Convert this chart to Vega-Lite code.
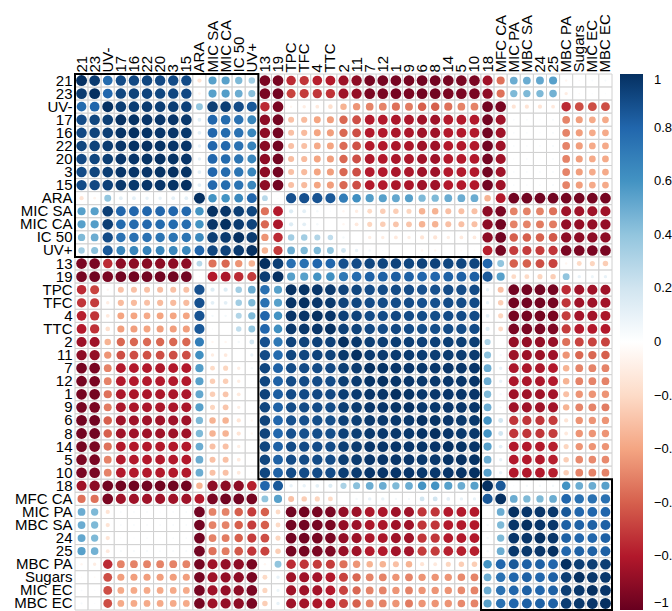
{
  "$schema": "https://vega.github.io/schema/vega-lite/v6.json",
  "width": 537,
  "height": 536,
  "autosize": {"type": "none"},
  "padding": {"left": 75, "top": 74, "right": 60, "bottom": 1},
  "background": "white",
  "config": {
    "view": {"stroke": null},
    "axis": {"labelFont": "Liberation Sans", "labelFontSize": 15, "labelColor": "#000000", "domain": false, "ticks": false, "grid": false, "title": null, "labelOverlap": false, "labelPadding": 3},
    "legend": {"gradientVerticalMaxLength": 600}
  },
  "datasets": {
    "blocks": [
      {"from": "21", "to": "UV+"},
      {"from": "13", "to": "10"},
      {"from": "18", "to": "MBC EC"}
    ],
    "cells": [
      {"a":"21","b":"21","r":1},{"a":"21","b":"23","r":0.96},{"a":"21","b":"UV-","r":0.78},{"a":"21","b":"17","r":0.9},{"a":"21","b":"16","r":0.91},{"a":"21","b":"22","r":0.92},{"a":"21","b":"20","r":0.91},{"a":"21","b":"3","r":0.9},{"a":"21","b":"15","r":0.9},{"a":"21","b":"ARA","r":-0.15},{"a":"21","b":"MIC SA","r":0.55},{"a":"21","b":"MIC CA","r":0.55},{"a":"21","b":"IC 50","r":0.45},{"a":"21","b":"UV+","r":0.35},{"a":"21","b":"13","r":-0.95},{"a":"21","b":"19","r":-0.96},{"a":"21","b":"TPC","r":-0.75},{"a":"21","b":"TFC","r":-0.72},{"a":"21","b":"4","r":-0.78},{"a":"21","b":"TTC","r":-0.8},{"a":"21","b":"2","r":-0.86},{"a":"21","b":"11","r":-0.9},{"a":"21","b":"7","r":-0.96},{"a":"21","b":"12","r":-0.96},{"a":"21","b":"1","r":-0.96},{"a":"21","b":"9","r":-0.96},{"a":"21","b":"6","r":-0.97},{"a":"21","b":"8","r":-0.97},{"a":"21","b":"14","r":-0.96},{"a":"21","b":"5","r":-0.95},{"a":"21","b":"10","r":-0.95},{"a":"21","b":"18","r":-0.85},{"a":"21","b":"MFC CA","r":-0.55},{"a":"21","b":"MIC PA","r":0.5},{"a":"21","b":"MBC SA","r":0.5},{"a":"21","b":"24","r":0.52},{"a":"21","b":"25","r":0.55},{"a":"21","b":"MBC PA","r":-0.05},{"a":"21","b":"Sugars","r":-0.02},{"a":"21","b":"MIC EC","r":0.03},{"a":"21","b":"MBC EC","r":0.04},
      {"a":"23","b":"23","r":1},{"a":"23","b":"UV-","r":0.8},{"a":"23","b":"17","r":0.92},{"a":"23","b":"16","r":0.93},{"a":"23","b":"22","r":0.93},{"a":"23","b":"20","r":0.92},{"a":"23","b":"3","r":0.92},{"a":"23","b":"15","r":0.91},{"a":"23","b":"ARA","r":-0.06},{"a":"23","b":"MIC SA","r":0.55},{"a":"23","b":"MIC CA","r":0.56},{"a":"23","b":"IC 50","r":0.5},{"a":"23","b":"UV+","r":0.42},{"a":"23","b":"13","r":-0.95},{"a":"23","b":"19","r":-0.97},{"a":"23","b":"TPC","r":-0.68},{"a":"23","b":"TFC","r":-0.7},{"a":"23","b":"4","r":-0.72},{"a":"23","b":"TTC","r":-0.73},{"a":"23","b":"2","r":-0.85},{"a":"23","b":"11","r":-0.88},{"a":"23","b":"7","r":-0.95},{"a":"23","b":"12","r":-0.95},{"a":"23","b":"1","r":-0.96},{"a":"23","b":"9","r":-0.95},{"a":"23","b":"6","r":-0.97},{"a":"23","b":"8","r":-0.97},{"a":"23","b":"14","r":-0.95},{"a":"23","b":"5","r":-0.95},{"a":"23","b":"10","r":-0.95},{"a":"23","b":"18","r":-0.9},{"a":"23","b":"MFC CA","r":-0.55},{"a":"23","b":"MIC PA","r":0.45},{"a":"23","b":"MBC SA","r":0.45},{"a":"23","b":"24","r":0.45},{"a":"23","b":"25","r":0.48},{"a":"23","b":"MBC PA","r":-0.1},{"a":"23","b":"Sugars","r":-0.03},{"a":"23","b":"MIC EC","r":0.02},{"a":"23","b":"MBC EC","r":0.02},
      {"a":"UV-","b":"UV-","r":1},{"a":"UV-","b":"17","r":0.95},{"a":"UV-","b":"16","r":0.95},{"a":"UV-","b":"22","r":0.96},{"a":"UV-","b":"20","r":0.95},{"a":"UV-","b":"3","r":0.95},{"a":"UV-","b":"15","r":0.94},{"a":"UV-","b":"ARA","r":0.4},{"a":"UV-","b":"MIC SA","r":0.95},{"a":"UV-","b":"MIC CA","r":0.95},{"a":"UV-","b":"IC 50","r":0.9},{"a":"UV-","b":"UV+","r":0.85},{"a":"UV-","b":"13","r":-0.75},{"a":"UV-","b":"19","r":-0.95},{"a":"UV-","b":"TPC","r":-0.05},{"a":"UV-","b":"TFC","r":-0.1},{"a":"UV-","b":"4","r":-0.12},{"a":"UV-","b":"TTC","r":-0.18},{"a":"UV-","b":"2","r":-0.35},{"a":"UV-","b":"11","r":-0.45},{"a":"UV-","b":"7","r":-0.5},{"a":"UV-","b":"12","r":-0.5},{"a":"UV-","b":"1","r":-0.55},{"a":"UV-","b":"9","r":-0.52},{"a":"UV-","b":"6","r":-0.6},{"a":"UV-","b":"8","r":-0.6},{"a":"UV-","b":"14","r":-0.55},{"a":"UV-","b":"5","r":-0.5},{"a":"UV-","b":"10","r":-0.5},{"a":"UV-","b":"18","r":-0.97},{"a":"UV-","b":"MFC CA","r":-0.95},{"a":"UV-","b":"MIC PA","r":-0.15},{"a":"UV-","b":"MBC SA","r":-0.15},{"a":"UV-","b":"24","r":-0.15},{"a":"UV-","b":"25","r":-0.12},{"a":"UV-","b":"MBC PA","r":-0.75},{"a":"UV-","b":"Sugars","r":-0.65},{"a":"UV-","b":"MIC EC","r":-0.65},{"a":"UV-","b":"MBC EC","r":-0.65},
      {"a":"17","b":"17","r":1},{"a":"17","b":"16","r":0.99},{"a":"17","b":"22","r":0.98},{"a":"17","b":"20","r":0.98},{"a":"17","b":"3","r":0.98},{"a":"17","b":"15","r":0.97},{"a":"17","b":"ARA","r":0.12},{"a":"17","b":"MIC SA","r":0.8},{"a":"17","b":"MIC CA","r":0.78},{"a":"17","b":"IC 50","r":0.75},{"a":"17","b":"UV+","r":0.66},{"a":"17","b":"13","r":-0.9},{"a":"17","b":"19","r":-0.97},{"a":"17","b":"TPC","r":-0.3},{"a":"17","b":"TFC","r":-0.32},{"a":"17","b":"4","r":-0.4},{"a":"17","b":"TTC","r":-0.42},{"a":"17","b":"2","r":-0.58},{"a":"17","b":"11","r":-0.65},{"a":"17","b":"7","r":-0.8},{"a":"17","b":"12","r":-0.8},{"a":"17","b":"1","r":-0.82},{"a":"17","b":"9","r":-0.82},{"a":"17","b":"6","r":-0.85},{"a":"17","b":"8","r":-0.85},{"a":"17","b":"14","r":-0.8},{"a":"17","b":"5","r":-0.8},{"a":"17","b":"10","r":-0.8},{"a":"17","b":"18","r":-0.97},{"a":"17","b":"MFC CA","r":-0.85},{"a":"17","b":"MIC PA","r":0.03},{"a":"17","b":"MBC SA","r":0.03},{"a":"17","b":"24","r":0.02},{"a":"17","b":"25","r":0.04},{"a":"17","b":"MBC PA","r":-0.5},{"a":"17","b":"Sugars","r":-0.42},{"a":"17","b":"MIC EC","r":-0.38},{"a":"17","b":"MBC EC","r":-0.38},
      {"a":"16","b":"16","r":1},{"a":"16","b":"22","r":0.99},{"a":"16","b":"20","r":0.98},{"a":"16","b":"3","r":0.98},{"a":"16","b":"15","r":0.97},{"a":"16","b":"ARA","r":0.12},{"a":"16","b":"MIC SA","r":0.8},{"a":"16","b":"MIC CA","r":0.78},{"a":"16","b":"IC 50","r":0.75},{"a":"16","b":"UV+","r":0.66},{"a":"16","b":"13","r":-0.9},{"a":"16","b":"19","r":-0.97},{"a":"16","b":"TPC","r":-0.3},{"a":"16","b":"TFC","r":-0.32},{"a":"16","b":"4","r":-0.4},{"a":"16","b":"TTC","r":-0.42},{"a":"16","b":"2","r":-0.58},{"a":"16","b":"11","r":-0.65},{"a":"16","b":"7","r":-0.8},{"a":"16","b":"12","r":-0.8},{"a":"16","b":"1","r":-0.82},{"a":"16","b":"9","r":-0.82},{"a":"16","b":"6","r":-0.85},{"a":"16","b":"8","r":-0.85},{"a":"16","b":"14","r":-0.8},{"a":"16","b":"5","r":-0.8},{"a":"16","b":"10","r":-0.8},{"a":"16","b":"18","r":-0.97},{"a":"16","b":"MFC CA","r":-0.85},{"a":"16","b":"MIC PA","r":0.03},{"a":"16","b":"MBC SA","r":0.03},{"a":"16","b":"24","r":0.02},{"a":"16","b":"25","r":0.04},{"a":"16","b":"MBC PA","r":-0.5},{"a":"16","b":"Sugars","r":-0.42},{"a":"16","b":"MIC EC","r":-0.38},{"a":"16","b":"MBC EC","r":-0.38},
      {"a":"22","b":"22","r":1},{"a":"22","b":"20","r":0.99},{"a":"22","b":"3","r":0.98},{"a":"22","b":"15","r":0.98},{"a":"22","b":"ARA","r":0.1},{"a":"22","b":"MIC SA","r":0.8},{"a":"22","b":"MIC CA","r":0.79},{"a":"22","b":"IC 50","r":0.75},{"a":"22","b":"UV+","r":0.67},{"a":"22","b":"13","r":-0.91},{"a":"22","b":"19","r":-0.97},{"a":"22","b":"TPC","r":-0.3},{"a":"22","b":"TFC","r":-0.3},{"a":"22","b":"4","r":-0.38},{"a":"22","b":"TTC","r":-0.4},{"a":"22","b":"2","r":-0.57},{"a":"22","b":"11","r":-0.64},{"a":"22","b":"7","r":-0.8},{"a":"22","b":"12","r":-0.8},{"a":"22","b":"1","r":-0.82},{"a":"22","b":"9","r":-0.82},{"a":"22","b":"6","r":-0.85},{"a":"22","b":"8","r":-0.85},{"a":"22","b":"14","r":-0.8},{"a":"22","b":"5","r":-0.8},{"a":"22","b":"10","r":-0.8},{"a":"22","b":"18","r":-0.97},{"a":"22","b":"MFC CA","r":-0.85},{"a":"22","b":"MIC PA","r":0.03},{"a":"22","b":"MBC SA","r":0.03},{"a":"22","b":"24","r":0.03},{"a":"22","b":"25","r":0.04},{"a":"22","b":"MBC PA","r":-0.5},{"a":"22","b":"Sugars","r":-0.42},{"a":"22","b":"MIC EC","r":-0.38},{"a":"22","b":"MBC EC","r":-0.38},
      {"a":"20","b":"20","r":1},{"a":"20","b":"3","r":0.99},{"a":"20","b":"15","r":0.98},{"a":"20","b":"ARA","r":0.1},{"a":"20","b":"MIC SA","r":0.8},{"a":"20","b":"MIC CA","r":0.78},{"a":"20","b":"IC 50","r":0.74},{"a":"20","b":"UV+","r":0.66},{"a":"20","b":"13","r":-0.9},{"a":"20","b":"19","r":-0.97},{"a":"20","b":"TPC","r":-0.31},{"a":"20","b":"TFC","r":-0.32},{"a":"20","b":"4","r":-0.4},{"a":"20","b":"TTC","r":-0.42},{"a":"20","b":"2","r":-0.58},{"a":"20","b":"11","r":-0.65},{"a":"20","b":"7","r":-0.81},{"a":"20","b":"12","r":-0.8},{"a":"20","b":"1","r":-0.82},{"a":"20","b":"9","r":-0.82},{"a":"20","b":"6","r":-0.85},{"a":"20","b":"8","r":-0.85},{"a":"20","b":"14","r":-0.8},{"a":"20","b":"5","r":-0.8},{"a":"20","b":"10","r":-0.8},{"a":"20","b":"18","r":-0.97},{"a":"20","b":"MFC CA","r":-0.85},{"a":"20","b":"MIC PA","r":0.02},{"a":"20","b":"MBC SA","r":0.03},{"a":"20","b":"24","r":0.02},{"a":"20","b":"25","r":0.03},{"a":"20","b":"MBC PA","r":-0.5},{"a":"20","b":"Sugars","r":-0.42},{"a":"20","b":"MIC EC","r":-0.38},{"a":"20","b":"MBC EC","r":-0.38},
      {"a":"3","b":"3","r":1},{"a":"3","b":"15","r":0.99},{"a":"3","b":"ARA","r":0.12},{"a":"3","b":"MIC SA","r":0.8},{"a":"3","b":"MIC CA","r":0.78},{"a":"3","b":"IC 50","r":0.74},{"a":"3","b":"UV+","r":0.66},{"a":"3","b":"13","r":-0.9},{"a":"3","b":"19","r":-0.97},{"a":"3","b":"TPC","r":-0.3},{"a":"3","b":"TFC","r":-0.32},{"a":"3","b":"4","r":-0.4},{"a":"3","b":"TTC","r":-0.42},{"a":"3","b":"2","r":-0.58},{"a":"3","b":"11","r":-0.65},{"a":"3","b":"7","r":-0.8},{"a":"3","b":"12","r":-0.8},{"a":"3","b":"1","r":-0.82},{"a":"3","b":"9","r":-0.82},{"a":"3","b":"6","r":-0.85},{"a":"3","b":"8","r":-0.85},{"a":"3","b":"14","r":-0.8},{"a":"3","b":"5","r":-0.8},{"a":"3","b":"10","r":-0.8},{"a":"3","b":"18","r":-0.97},{"a":"3","b":"MFC CA","r":-0.85},{"a":"3","b":"MIC PA","r":0.03},{"a":"3","b":"MBC SA","r":0.03},{"a":"3","b":"24","r":0.03},{"a":"3","b":"25","r":0.04},{"a":"3","b":"MBC PA","r":-0.5},{"a":"3","b":"Sugars","r":-0.42},{"a":"3","b":"MIC EC","r":-0.38},{"a":"3","b":"MBC EC","r":-0.38},
      {"a":"15","b":"15","r":1},{"a":"15","b":"ARA","r":0.12},{"a":"15","b":"MIC SA","r":0.79},{"a":"15","b":"MIC CA","r":0.77},{"a":"15","b":"IC 50","r":0.74},{"a":"15","b":"UV+","r":0.65},{"a":"15","b":"13","r":-0.9},{"a":"15","b":"19","r":-0.97},{"a":"15","b":"TPC","r":-0.3},{"a":"15","b":"TFC","r":-0.32},{"a":"15","b":"4","r":-0.4},{"a":"15","b":"TTC","r":-0.42},{"a":"15","b":"2","r":-0.58},{"a":"15","b":"11","r":-0.65},{"a":"15","b":"7","r":-0.8},{"a":"15","b":"12","r":-0.8},{"a":"15","b":"1","r":-0.82},{"a":"15","b":"9","r":-0.82},{"a":"15","b":"6","r":-0.85},{"a":"15","b":"8","r":-0.85},{"a":"15","b":"14","r":-0.8},{"a":"15","b":"5","r":-0.8},{"a":"15","b":"10","r":-0.8},{"a":"15","b":"18","r":-0.97},{"a":"15","b":"MFC CA","r":-0.85},{"a":"15","b":"MIC PA","r":0.03},{"a":"15","b":"MBC SA","r":0.03},{"a":"15","b":"24","r":0.03},{"a":"15","b":"25","r":0.04},{"a":"15","b":"MBC PA","r":-0.5},{"a":"15","b":"Sugars","r":-0.42},{"a":"15","b":"MIC EC","r":-0.38},{"a":"15","b":"MBC EC","r":-0.38},
      {"a":"ARA","b":"ARA","r":1},{"a":"ARA","b":"MIC SA","r":0.6},{"a":"ARA","b":"MIC CA","r":0.6},{"a":"ARA","b":"IC 50","r":0.65},{"a":"ARA","b":"UV+","r":0.8},{"a":"ARA","b":"13","r":0.28},{"a":"ARA","b":"19","r":0.02},{"a":"ARA","b":"TPC","r":0.88},{"a":"ARA","b":"TFC","r":0.88},{"a":"ARA","b":"4","r":0.87},{"a":"ARA","b":"TTC","r":0.85},{"a":"ARA","b":"2","r":0.7},{"a":"ARA","b":"11","r":0.62},{"a":"ARA","b":"7","r":0.56},{"a":"ARA","b":"12","r":0.55},{"a":"ARA","b":"1","r":0.52},{"a":"ARA","b":"9","r":0.55},{"a":"ARA","b":"6","r":0.45},{"a":"ARA","b":"8","r":0.45},{"a":"ARA","b":"14","r":0.5},{"a":"ARA","b":"5","r":0.5},{"a":"ARA","b":"10","r":0.5},{"a":"ARA","b":"18","r":-0.35},{"a":"ARA","b":"MFC CA","r":-0.8},{"a":"ARA","b":"MIC PA","r":-0.97},{"a":"ARA","b":"MBC SA","r":-0.97},{"a":"ARA","b":"24","r":-0.97},{"a":"ARA","b":"25","r":-0.97},{"a":"ARA","b":"MBC PA","r":-0.96},{"a":"ARA","b":"Sugars","r":-0.96},{"a":"ARA","b":"MIC EC","r":-0.96},{"a":"ARA","b":"MBC EC","r":-0.96},
      {"a":"MIC SA","b":"MIC SA","r":1},{"a":"MIC SA","b":"MIC CA","r":0.98},{"a":"MIC SA","b":"IC 50","r":0.95},{"a":"MIC SA","b":"UV+","r":0.92},{"a":"MIC SA","b":"13","r":-0.55},{"a":"MIC SA","b":"19","r":-0.8},{"a":"MIC SA","b":"TPC","r":0.15},{"a":"MIC SA","b":"TFC","r":0.12},{"a":"MIC SA","b":"4","r":0.05},{"a":"MIC SA","b":"TTC","r":0.02},{"a":"MIC SA","b":"2","r":-0.05},{"a":"MIC SA","b":"11","r":-0.1},{"a":"MIC SA","b":"7","r":-0.2},{"a":"MIC SA","b":"12","r":-0.25},{"a":"MIC SA","b":"1","r":-0.25},{"a":"MIC SA","b":"9","r":-0.22},{"a":"MIC SA","b":"6","r":-0.35},{"a":"MIC SA","b":"8","r":-0.35},{"a":"MIC SA","b":"14","r":-0.3},{"a":"MIC SA","b":"5","r":-0.3},{"a":"MIC SA","b":"10","r":-0.3},{"a":"MIC SA","b":"18","r":-0.9},{"a":"MIC SA","b":"MFC CA","r":-0.95},{"a":"MIC SA","b":"MIC PA","r":-0.5},{"a":"MIC SA","b":"MBC SA","r":-0.5},{"a":"MIC SA","b":"24","r":-0.5},{"a":"MIC SA","b":"25","r":-0.55},{"a":"MIC SA","b":"MBC PA","r":-0.85},{"a":"MIC SA","b":"Sugars","r":-0.85},{"a":"MIC SA","b":"MIC EC","r":-0.85},{"a":"MIC SA","b":"MBC EC","r":-0.85},
      {"a":"MIC CA","b":"MIC CA","r":1},{"a":"MIC CA","b":"IC 50","r":0.96},{"a":"MIC CA","b":"UV+","r":0.93},{"a":"MIC CA","b":"13","r":-0.58},{"a":"MIC CA","b":"19","r":-0.82},{"a":"MIC CA","b":"TPC","r":0.15},{"a":"MIC CA","b":"TFC","r":0.12},{"a":"MIC CA","b":"4","r":0.05},{"a":"MIC CA","b":"TTC","r":0.0},{"a":"MIC CA","b":"2","r":-0.05},{"a":"MIC CA","b":"11","r":-0.12},{"a":"MIC CA","b":"7","r":-0.22},{"a":"MIC CA","b":"12","r":-0.25},{"a":"MIC CA","b":"1","r":-0.28},{"a":"MIC CA","b":"9","r":-0.28},{"a":"MIC CA","b":"6","r":-0.35},{"a":"MIC CA","b":"8","r":-0.35},{"a":"MIC CA","b":"14","r":-0.3},{"a":"MIC CA","b":"5","r":-0.3},{"a":"MIC CA","b":"10","r":-0.3},{"a":"MIC CA","b":"18","r":-0.9},{"a":"MIC CA","b":"MFC CA","r":-0.97},{"a":"MIC CA","b":"MIC PA","r":-0.5},{"a":"MIC CA","b":"MBC SA","r":-0.5},{"a":"MIC CA","b":"24","r":-0.52},{"a":"MIC CA","b":"25","r":-0.52},{"a":"MIC CA","b":"MBC PA","r":-0.88},{"a":"MIC CA","b":"Sugars","r":-0.88},{"a":"MIC CA","b":"MIC EC","r":-0.88},{"a":"MIC CA","b":"MBC EC","r":-0.88},
      {"a":"IC 50","b":"IC 50","r":1},{"a":"IC 50","b":"UV+","r":0.96},{"a":"IC 50","b":"13","r":-0.45},{"a":"IC 50","b":"19","r":-0.75},{"a":"IC 50","b":"TPC","r":0.35},{"a":"IC 50","b":"TFC","r":0.35},{"a":"IC 50","b":"4","r":0.3},{"a":"IC 50","b":"TTC","r":0.25},{"a":"IC 50","b":"2","r":0.05},{"a":"IC 50","b":"11","r":0.0},{"a":"IC 50","b":"7","r":-0.1},{"a":"IC 50","b":"12","r":-0.1},{"a":"IC 50","b":"1","r":-0.12},{"a":"IC 50","b":"9","r":-0.1},{"a":"IC 50","b":"6","r":-0.15},{"a":"IC 50","b":"8","r":-0.15},{"a":"IC 50","b":"14","r":-0.1},{"a":"IC 50","b":"5","r":-0.12},{"a":"IC 50","b":"10","r":-0.12},{"a":"IC 50","b":"18","r":-0.9},{"a":"IC 50","b":"MFC CA","r":-0.97},{"a":"IC 50","b":"MIC PA","r":-0.6},{"a":"IC 50","b":"MBC SA","r":-0.6},{"a":"IC 50","b":"24","r":-0.6},{"a":"IC 50","b":"25","r":-0.62},{"a":"IC 50","b":"MBC PA","r":-0.9},{"a":"IC 50","b":"Sugars","r":-0.9},{"a":"IC 50","b":"MIC EC","r":-0.9},{"a":"IC 50","b":"MBC EC","r":-0.9},
      {"a":"UV+","b":"UV+","r":1},{"a":"UV+","b":"13","r":-0.35},{"a":"UV+","b":"19","r":-0.7},{"a":"UV+","b":"TPC","r":0.5},{"a":"UV+","b":"TFC","r":0.45},{"a":"UV+","b":"4","r":0.45},{"a":"UV+","b":"TTC","r":0.4},{"a":"UV+","b":"2","r":0.2},{"a":"UV+","b":"11","r":0.1},{"a":"UV+","b":"7","r":0.05},{"a":"UV+","b":"12","r":0.02},{"a":"UV+","b":"1","r":0.0},{"a":"UV+","b":"9","r":0.0},{"a":"UV+","b":"6","r":-0.05},{"a":"UV+","b":"8","r":-0.05},{"a":"UV+","b":"14","r":0.0},{"a":"UV+","b":"5","r":-0.03},{"a":"UV+","b":"10","r":-0.03},{"a":"UV+","b":"18","r":-0.78},{"a":"UV+","b":"MFC CA","r":-0.96},{"a":"UV+","b":"MIC PA","r":-0.7},{"a":"UV+","b":"MBC SA","r":-0.7},{"a":"UV+","b":"24","r":-0.7},{"a":"UV+","b":"25","r":-0.72},{"a":"UV+","b":"MBC PA","r":-0.95},{"a":"UV+","b":"Sugars","r":-0.95},{"a":"UV+","b":"MIC EC","r":-0.95},{"a":"UV+","b":"MBC EC","r":-0.95},
      {"a":"13","b":"13","r":1},{"a":"13","b":"19","r":0.95},{"a":"13","b":"TPC","r":0.76},{"a":"13","b":"TFC","r":0.75},{"a":"13","b":"4","r":0.8},{"a":"13","b":"TTC","r":0.8},{"a":"13","b":"2","r":0.88},{"a":"13","b":"11","r":0.9},{"a":"13","b":"7","r":0.92},{"a":"13","b":"12","r":0.92},{"a":"13","b":"1","r":0.93},{"a":"13","b":"9","r":0.92},{"a":"13","b":"6","r":0.93},{"a":"13","b":"8","r":0.93},{"a":"13","b":"14","r":0.92},{"a":"13","b":"5","r":0.92},{"a":"13","b":"10","r":0.92},{"a":"13","b":"18","r":0.8},{"a":"13","b":"MFC CA","r":0.4},{"a":"13","b":"MIC PA","r":-0.6},{"a":"13","b":"MBC SA","r":-0.6},{"a":"13","b":"24","r":-0.65},{"a":"13","b":"25","r":-0.68},{"a":"13","b":"MBC PA","r":-0.05},{"a":"13","b":"Sugars","r":-0.2},{"a":"13","b":"MIC EC","r":-0.22},{"a":"13","b":"MBC EC","r":-0.25},
      {"a":"19","b":"19","r":1},{"a":"19","b":"TPC","r":0.55},{"a":"19","b":"TFC","r":0.55},{"a":"19","b":"4","r":0.6},{"a":"19","b":"TTC","r":0.62},{"a":"19","b":"2","r":0.72},{"a":"19","b":"11","r":0.78},{"a":"19","b":"7","r":0.82},{"a":"19","b":"12","r":0.82},{"a":"19","b":"1","r":0.83},{"a":"19","b":"9","r":0.82},{"a":"19","b":"6","r":0.8},{"a":"19","b":"8","r":0.8},{"a":"19","b":"14","r":0.82},{"a":"19","b":"5","r":0.82},{"a":"19","b":"10","r":0.82},{"a":"19","b":"18","r":0.85},{"a":"19","b":"MFC CA","r":0.55},{"a":"19","b":"MIC PA","r":-0.2},{"a":"19","b":"MBC SA","r":-0.2},{"a":"19","b":"24","r":-0.22},{"a":"19","b":"25","r":-0.25},{"a":"19","b":"MBC PA","r":0.4},{"a":"19","b":"Sugars","r":0.1},{"a":"19","b":"MIC EC","r":0.08},{"a":"19","b":"MBC EC","r":0.1},
      {"a":"TPC","b":"TPC","r":1},{"a":"TPC","b":"TFC","r":0.99},{"a":"TPC","b":"4","r":0.98},{"a":"TPC","b":"TTC","r":0.97},{"a":"TPC","b":"2","r":0.93},{"a":"TPC","b":"11","r":0.92},{"a":"TPC","b":"7","r":0.9},{"a":"TPC","b":"12","r":0.9},{"a":"TPC","b":"1","r":0.9},{"a":"TPC","b":"9","r":0.9},{"a":"TPC","b":"6","r":0.88},{"a":"TPC","b":"8","r":0.88},{"a":"TPC","b":"14","r":0.9},{"a":"TPC","b":"5","r":0.9},{"a":"TPC","b":"10","r":0.9},{"a":"TPC","b":"18","r":0.1},{"a":"TPC","b":"MFC CA","r":-0.3},{"a":"TPC","b":"MIC PA","r":-0.97},{"a":"TPC","b":"MBC SA","r":-0.97},{"a":"TPC","b":"24","r":-0.97},{"a":"TPC","b":"25","r":-0.96},{"a":"TPC","b":"MBC PA","r":-0.75},{"a":"TPC","b":"Sugars","r":-0.85},{"a":"TPC","b":"MIC EC","r":-0.85},{"a":"TPC","b":"MBC EC","r":-0.85},
      {"a":"TFC","b":"TFC","r":1},{"a":"TFC","b":"4","r":0.98},{"a":"TFC","b":"TTC","r":0.97},{"a":"TFC","b":"2","r":0.93},{"a":"TFC","b":"11","r":0.92},{"a":"TFC","b":"7","r":0.9},{"a":"TFC","b":"12","r":0.9},{"a":"TFC","b":"1","r":0.9},{"a":"TFC","b":"9","r":0.9},{"a":"TFC","b":"6","r":0.88},{"a":"TFC","b":"8","r":0.88},{"a":"TFC","b":"14","r":0.9},{"a":"TFC","b":"5","r":0.9},{"a":"TFC","b":"10","r":0.9},{"a":"TFC","b":"18","r":0.1},{"a":"TFC","b":"MFC CA","r":-0.25},{"a":"TFC","b":"MIC PA","r":-0.97},{"a":"TFC","b":"MBC SA","r":-0.97},{"a":"TFC","b":"24","r":-0.97},{"a":"TFC","b":"25","r":-0.96},{"a":"TFC","b":"MBC PA","r":-0.72},{"a":"TFC","b":"Sugars","r":-0.85},{"a":"TFC","b":"MIC EC","r":-0.85},{"a":"TFC","b":"MBC EC","r":-0.84},
      {"a":"4","b":"4","r":1},{"a":"4","b":"TTC","r":0.98},{"a":"4","b":"2","r":0.94},{"a":"4","b":"11","r":0.93},{"a":"4","b":"7","r":0.9},{"a":"4","b":"12","r":0.9},{"a":"4","b":"1","r":0.91},{"a":"4","b":"9","r":0.9},{"a":"4","b":"6","r":0.89},{"a":"4","b":"8","r":0.89},{"a":"4","b":"14","r":0.9},{"a":"4","b":"5","r":0.9},{"a":"4","b":"10","r":0.9},{"a":"4","b":"18","r":0.12},{"a":"4","b":"MFC CA","r":-0.22},{"a":"4","b":"MIC PA","r":-0.96},{"a":"4","b":"MBC SA","r":-0.96},{"a":"4","b":"24","r":-0.96},{"a":"4","b":"25","r":-0.95},{"a":"4","b":"MBC PA","r":-0.7},{"a":"4","b":"Sugars","r":-0.84},{"a":"4","b":"MIC EC","r":-0.84},{"a":"4","b":"MBC EC","r":-0.82},
      {"a":"TTC","b":"TTC","r":1},{"a":"TTC","b":"2","r":0.94},{"a":"TTC","b":"11","r":0.93},{"a":"TTC","b":"7","r":0.91},{"a":"TTC","b":"12","r":0.9},{"a":"TTC","b":"1","r":0.91},{"a":"TTC","b":"9","r":0.9},{"a":"TTC","b":"6","r":0.89},{"a":"TTC","b":"8","r":0.89},{"a":"TTC","b":"14","r":0.9},{"a":"TTC","b":"5","r":0.9},{"a":"TTC","b":"10","r":0.9},{"a":"TTC","b":"18","r":0.15},{"a":"TTC","b":"MFC CA","r":-0.2},{"a":"TTC","b":"MIC PA","r":-0.95},{"a":"TTC","b":"MBC SA","r":-0.95},{"a":"TTC","b":"24","r":-0.95},{"a":"TTC","b":"25","r":-0.94},{"a":"TTC","b":"MBC PA","r":-0.7},{"a":"TTC","b":"Sugars","r":-0.8},{"a":"TTC","b":"MIC EC","r":-0.8},{"a":"TTC","b":"MBC EC","r":-0.8},
      {"a":"2","b":"2","r":1},{"a":"2","b":"11","r":0.97},{"a":"2","b":"7","r":0.95},{"a":"2","b":"12","r":0.95},{"a":"2","b":"1","r":0.95},{"a":"2","b":"9","r":0.95},{"a":"2","b":"6","r":0.94},{"a":"2","b":"8","r":0.94},{"a":"2","b":"14","r":0.95},{"a":"2","b":"5","r":0.95},{"a":"2","b":"10","r":0.95},{"a":"2","b":"18","r":0.32},{"a":"2","b":"MFC CA","r":0.0},{"a":"2","b":"MIC PA","r":-0.88},{"a":"2","b":"MBC SA","r":-0.88},{"a":"2","b":"24","r":-0.88},{"a":"2","b":"25","r":-0.87},{"a":"2","b":"MBC PA","r":-0.55},{"a":"2","b":"Sugars","r":-0.68},{"a":"2","b":"MIC EC","r":-0.68},{"a":"2","b":"MBC EC","r":-0.68},
      {"a":"11","b":"11","r":1},{"a":"11","b":"7","r":0.96},{"a":"11","b":"12","r":0.96},{"a":"11","b":"1","r":0.96},{"a":"11","b":"9","r":0.96},{"a":"11","b":"6","r":0.95},{"a":"11","b":"8","r":0.95},{"a":"11","b":"14","r":0.96},{"a":"11","b":"5","r":0.96},{"a":"11","b":"10","r":0.96},{"a":"11","b":"18","r":0.42},{"a":"11","b":"MFC CA","r":0.05},{"a":"11","b":"MIC PA","r":-0.86},{"a":"11","b":"MBC SA","r":-0.86},{"a":"11","b":"24","r":-0.86},{"a":"11","b":"25","r":-0.85},{"a":"11","b":"MBC PA","r":-0.45},{"a":"11","b":"Sugars","r":-0.58},{"a":"11","b":"MIC EC","r":-0.58},{"a":"11","b":"MBC EC","r":-0.6},
      {"a":"7","b":"7","r":1},{"a":"7","b":"12","r":0.99},{"a":"7","b":"1","r":0.98},{"a":"7","b":"9","r":0.98},{"a":"7","b":"6","r":0.97},{"a":"7","b":"8","r":0.97},{"a":"7","b":"14","r":0.98},{"a":"7","b":"5","r":0.98},{"a":"7","b":"10","r":0.98},{"a":"7","b":"18","r":0.5},{"a":"7","b":"MFC CA","r":0.1},{"a":"7","b":"MIC PA","r":-0.82},{"a":"7","b":"MBC SA","r":-0.82},{"a":"7","b":"24","r":-0.82},{"a":"7","b":"25","r":-0.8},{"a":"7","b":"MBC PA","r":-0.35},{"a":"7","b":"Sugars","r":-0.5},{"a":"7","b":"MIC EC","r":-0.5},{"a":"7","b":"MBC EC","r":-0.5},
      {"a":"12","b":"12","r":1},{"a":"12","b":"1","r":0.98},{"a":"12","b":"9","r":0.98},{"a":"12","b":"6","r":0.97},{"a":"12","b":"8","r":0.97},{"a":"12","b":"14","r":0.98},{"a":"12","b":"5","r":0.98},{"a":"12","b":"10","r":0.98},{"a":"12","b":"18","r":0.5},{"a":"12","b":"MFC CA","r":0.1},{"a":"12","b":"MIC PA","r":-0.82},{"a":"12","b":"MBC SA","r":-0.82},{"a":"12","b":"24","r":-0.82},{"a":"12","b":"25","r":-0.8},{"a":"12","b":"MBC PA","r":-0.35},{"a":"12","b":"Sugars","r":-0.5},{"a":"12","b":"MIC EC","r":-0.5},{"a":"12","b":"MBC EC","r":-0.5},
      {"a":"1","b":"1","r":1},{"a":"1","b":"9","r":0.99},{"a":"1","b":"6","r":0.97},{"a":"1","b":"8","r":0.97},{"a":"1","b":"14","r":0.98},{"a":"1","b":"5","r":0.98},{"a":"1","b":"10","r":0.98},{"a":"1","b":"18","r":0.45},{"a":"1","b":"MFC CA","r":0.05},{"a":"1","b":"MIC PA","r":-0.85},{"a":"1","b":"MBC SA","r":-0.85},{"a":"1","b":"24","r":-0.85},{"a":"1","b":"25","r":-0.84},{"a":"1","b":"MBC PA","r":-0.3},{"a":"1","b":"Sugars","r":-0.45},{"a":"1","b":"MIC EC","r":-0.45},{"a":"1","b":"MBC EC","r":-0.45},
      {"a":"9","b":"9","r":1},{"a":"9","b":"6","r":0.97},{"a":"9","b":"8","r":0.97},{"a":"9","b":"14","r":0.98},{"a":"9","b":"5","r":0.98},{"a":"9","b":"10","r":0.98},{"a":"9","b":"18","r":0.5},{"a":"9","b":"MFC CA","r":0.05},{"a":"9","b":"MIC PA","r":-0.85},{"a":"9","b":"MBC SA","r":-0.85},{"a":"9","b":"24","r":-0.85},{"a":"9","b":"25","r":-0.84},{"a":"9","b":"MBC PA","r":-0.35},{"a":"9","b":"Sugars","r":-0.5},{"a":"9","b":"MIC EC","r":-0.5},{"a":"9","b":"MBC EC","r":-0.52},
      {"a":"6","b":"6","r":1},{"a":"6","b":"8","r":0.99},{"a":"6","b":"14","r":0.98},{"a":"6","b":"5","r":0.97},{"a":"6","b":"10","r":0.97},{"a":"6","b":"18","r":0.6},{"a":"6","b":"MFC CA","r":0.2},{"a":"6","b":"MIC PA","r":-0.72},{"a":"6","b":"MBC SA","r":-0.72},{"a":"6","b":"24","r":-0.72},{"a":"6","b":"25","r":-0.7},{"a":"6","b":"MBC PA","r":-0.15},{"a":"6","b":"Sugars","r":-0.45},{"a":"6","b":"MIC EC","r":-0.45},{"a":"6","b":"MBC EC","r":-0.45},
      {"a":"8","b":"8","r":1},{"a":"8","b":"14","r":0.98},{"a":"8","b":"5","r":0.97},{"a":"8","b":"10","r":0.97},{"a":"8","b":"18","r":0.6},{"a":"8","b":"MFC CA","r":0.2},{"a":"8","b":"MIC PA","r":-0.72},{"a":"8","b":"MBC SA","r":-0.72},{"a":"8","b":"24","r":-0.72},{"a":"8","b":"25","r":-0.7},{"a":"8","b":"MBC PA","r":-0.12},{"a":"8","b":"Sugars","r":-0.45},{"a":"8","b":"MIC EC","r":-0.45},{"a":"8","b":"MBC EC","r":-0.45},
      {"a":"14","b":"14","r":1},{"a":"14","b":"5","r":0.99},{"a":"14","b":"10","r":0.98},{"a":"14","b":"18","r":0.55},{"a":"14","b":"MFC CA","r":0.12},{"a":"14","b":"MIC PA","r":-0.8},{"a":"14","b":"MBC SA","r":-0.8},{"a":"14","b":"24","r":-0.8},{"a":"14","b":"25","r":-0.78},{"a":"14","b":"MBC PA","r":-0.22},{"a":"14","b":"Sugars","r":-0.45},{"a":"14","b":"MIC EC","r":-0.45},{"a":"14","b":"MBC EC","r":-0.45},
      {"a":"5","b":"5","r":1},{"a":"5","b":"10","r":0.99},{"a":"5","b":"18","r":0.5},{"a":"5","b":"MFC CA","r":0.1},{"a":"5","b":"MIC PA","r":-0.8},{"a":"5","b":"MBC SA","r":-0.8},{"a":"5","b":"24","r":-0.8},{"a":"5","b":"25","r":-0.78},{"a":"5","b":"MBC PA","r":-0.25},{"a":"5","b":"Sugars","r":-0.48},{"a":"5","b":"MIC EC","r":-0.48},{"a":"5","b":"MBC EC","r":-0.48},
      {"a":"10","b":"10","r":1},{"a":"10","b":"18","r":0.55},{"a":"10","b":"MFC CA","r":0.1},{"a":"10","b":"MIC PA","r":-0.8},{"a":"10","b":"MBC SA","r":-0.8},{"a":"10","b":"24","r":-0.8},{"a":"10","b":"25","r":-0.78},{"a":"10","b":"MBC PA","r":-0.25},{"a":"10","b":"Sugars","r":-0.5},{"a":"10","b":"MIC EC","r":-0.5},{"a":"10","b":"MBC EC","r":-0.5},
      {"a":"18","b":"18","r":1},{"a":"18","b":"MFC CA","r":0.85},{"a":"18","b":"MIC PA","r":0.02},{"a":"18","b":"MBC SA","r":0.05},{"a":"18","b":"24","r":0.05},{"a":"18","b":"25","r":0.05},{"a":"18","b":"MBC PA","r":0.6},{"a":"18","b":"Sugars","r":0.5},{"a":"18","b":"MIC EC","r":0.5},{"a":"18","b":"MBC EC","r":0.55},
      {"a":"MFC CA","b":"MFC CA","r":1},{"a":"MFC CA","b":"MIC PA","r":0.5},{"a":"MFC CA","b":"MBC SA","r":0.45},{"a":"MFC CA","b":"24","r":0.45},{"a":"MFC CA","b":"25","r":0.5},{"a":"MFC CA","b":"MBC PA","r":0.8},{"a":"MFC CA","b":"Sugars","r":0.75},{"a":"MFC CA","b":"MIC EC","r":0.75},{"a":"MFC CA","b":"MBC EC","r":0.75},
      {"a":"MIC PA","b":"MIC PA","r":1},{"a":"MIC PA","b":"MBC SA","r":0.98},{"a":"MIC PA","b":"24","r":0.98},{"a":"MIC PA","b":"25","r":0.97},{"a":"MIC PA","b":"MBC PA","r":0.85},{"a":"MIC PA","b":"Sugars","r":0.8},{"a":"MIC PA","b":"MIC EC","r":0.8},{"a":"MIC PA","b":"MBC EC","r":0.8},
      {"a":"MBC SA","b":"MBC SA","r":1},{"a":"MBC SA","b":"24","r":0.98},{"a":"MBC SA","b":"25","r":0.97},{"a":"MBC SA","b":"MBC PA","r":0.82},{"a":"MBC SA","b":"Sugars","r":0.82},{"a":"MBC SA","b":"MIC EC","r":0.82},{"a":"MBC SA","b":"MBC EC","r":0.82},
      {"a":"24","b":"24","r":1},{"a":"24","b":"25","r":0.98},{"a":"24","b":"MBC PA","r":0.82},{"a":"24","b":"Sugars","r":0.8},{"a":"24","b":"MIC EC","r":0.8},{"a":"24","b":"MBC EC","r":0.82},
      {"a":"25","b":"25","r":1},{"a":"25","b":"MBC PA","r":0.8},{"a":"25","b":"Sugars","r":0.82},{"a":"25","b":"MIC EC","r":0.82},{"a":"25","b":"MBC EC","r":0.82},
      {"a":"MBC PA","b":"MBC PA","r":1},{"a":"MBC PA","b":"Sugars","r":0.95},{"a":"MBC PA","b":"MIC EC","r":0.95},{"a":"MBC PA","b":"MBC EC","r":0.95},
      {"a":"Sugars","b":"Sugars","r":1},{"a":"Sugars","b":"MIC EC","r":0.97},{"a":"Sugars","b":"MBC EC","r":0.97},
      {"a":"MIC EC","b":"MIC EC","r":1},{"a":"MIC EC","b":"MBC EC","r":0.98},
      {"a":"MBC EC","b":"MBC EC","r":1}
    ]
  },
  "layer": [
    {
      "data": {"name": "cells"},
      "mark": {"type": "rect", "fill": "white", "stroke": "#d0d0d0", "strokeWidth": 1},
      "encoding": {
        "x": {"field": "a", "type": "nominal", "scale": {"domain": ["21","23","UV-","17","16","22","20","3","15","ARA","MIC SA","MIC CA","IC 50","UV+","13","19","TPC","TFC","4","TTC","2","11","7","12","1","9","6","8","14","5","10","18","MFC CA","MIC PA","MBC SA","24","25","MBC PA","Sugars","MIC EC","MBC EC"], "paddingInner": 0, "paddingOuter": 0}, "axis": {"orient": "top", "labelAngle": -90, "labelAlign": "left", "labelBaseline": "middle", "labelPadding": 2}},
        "y": {"field": "b", "type": "nominal", "scale": {"domain": ["21","23","UV-","17","16","22","20","3","15","ARA","MIC SA","MIC CA","IC 50","UV+","13","19","TPC","TFC","4","TTC","2","11","7","12","1","9","6","8","14","5","10","18","MFC CA","MIC PA","MBC SA","24","25","MBC PA","Sugars","MIC EC","MBC EC"], "paddingInner": 0, "paddingOuter": 0}, "axis": {"labelAlign": "right", "labelPadding": 3}}
      }
    },
    {
      "data": {"name": "cells"},
      "transform": [{"filter": "datum.a !== datum.b"}],
      "mark": {"type": "rect", "fill": "white", "stroke": "#d0d0d0", "strokeWidth": 1},
      "encoding": {
        "x": {"field": "b", "type": "nominal", "scale": {"domain": ["21","23","UV-","17","16","22","20","3","15","ARA","MIC SA","MIC CA","IC 50","UV+","13","19","TPC","TFC","4","TTC","2","11","7","12","1","9","6","8","14","5","10","18","MFC CA","MIC PA","MBC SA","24","25","MBC PA","Sugars","MIC EC","MBC EC"], "paddingInner": 0, "paddingOuter": 0}, "axis": {"orient": "top", "labelAngle": -90, "labelAlign": "left", "labelBaseline": "middle", "labelPadding": 2}},
        "y": {"field": "a", "type": "nominal", "scale": {"domain": ["21","23","UV-","17","16","22","20","3","15","ARA","MIC SA","MIC CA","IC 50","UV+","13","19","TPC","TFC","4","TTC","2","11","7","12","1","9","6","8","14","5","10","18","MFC CA","MIC PA","MBC SA","24","25","MBC PA","Sugars","MIC EC","MBC EC"], "paddingInner": 0, "paddingOuter": 0}, "axis": {"labelAlign": "right", "labelPadding": 3}}
      }
    },
    {
      "data": {"name": "cells"},
      "mark": {"type": "circle", "opacity": 1},
      "encoding": {
        "x": {"field": "a", "type": "nominal", "scale": {"domain": ["21","23","UV-","17","16","22","20","3","15","ARA","MIC SA","MIC CA","IC 50","UV+","13","19","TPC","TFC","4","TTC","2","11","7","12","1","9","6","8","14","5","10","18","MFC CA","MIC PA","MBC SA","24","25","MBC PA","Sugars","MIC EC","MBC EC"], "paddingInner": 0, "paddingOuter": 0}, "axis": {"orient": "top", "labelAngle": -90, "labelAlign": "left", "labelBaseline": "middle", "labelPadding": 2}},
        "y": {"field": "b", "type": "nominal", "scale": {"domain": ["21","23","UV-","17","16","22","20","3","15","ARA","MIC SA","MIC CA","IC 50","UV+","13","19","TPC","TFC","4","TTC","2","11","7","12","1","9","6","8","14","5","10","18","MFC CA","MIC PA","MBC SA","24","25","MBC PA","Sugars","MIC EC","MBC EC"], "paddingInner": 0, "paddingOuter": 0}, "axis": {"labelAlign": "right", "labelPadding": 3}},
        "color": {"field": "r", "type": "quantitative", "scale": {"domain": [-1,-0.8,-0.6,-0.4,-0.2,0,0.2,0.4,0.6,0.8,1], "range": ["#67001F","#B2182B","#D6604D","#F4A582","#FDDBC7","#FFFFFF","#D1E5F0","#92C5DE","#4393C3","#2166AC","#053061"], "interpolate": "rgb"}, "legend": {"orient": "none", "legendX": 545, "legendY": 0, "direction": "vertical", "title": null, "padding": 0, "gradientLength": 536, "gradientThickness": 23, "gradientStrokeWidth": 0, "values": [1,0.8,0.6,0.4,0.2,0,-0.2,-0.4,-0.6,-0.8,-1], "format": ".1~f", "labelFont": "Liberation Sans", "labelFontSize": 13, "labelColor": "#000000", "labelBaseline": "middle", "labelOffset": 11, "labelOverlap": false}},
        "size": {"field": "r", "type": "quantitative", "scale": {"domain": [-1,0,1], "range": [120,0,120]}, "legend": null}
      }
    },
    {
      "data": {"name": "cells"},
      "transform": [{"filter": "datum.a !== datum.b"}],
      "mark": {"type": "circle", "opacity": 1},
      "encoding": {
        "x": {"field": "b", "type": "nominal", "scale": {"domain": ["21","23","UV-","17","16","22","20","3","15","ARA","MIC SA","MIC CA","IC 50","UV+","13","19","TPC","TFC","4","TTC","2","11","7","12","1","9","6","8","14","5","10","18","MFC CA","MIC PA","MBC SA","24","25","MBC PA","Sugars","MIC EC","MBC EC"], "paddingInner": 0, "paddingOuter": 0}, "axis": {"orient": "top", "labelAngle": -90, "labelAlign": "left", "labelBaseline": "middle", "labelPadding": 2}},
        "y": {"field": "a", "type": "nominal", "scale": {"domain": ["21","23","UV-","17","16","22","20","3","15","ARA","MIC SA","MIC CA","IC 50","UV+","13","19","TPC","TFC","4","TTC","2","11","7","12","1","9","6","8","14","5","10","18","MFC CA","MIC PA","MBC SA","24","25","MBC PA","Sugars","MIC EC","MBC EC"], "paddingInner": 0, "paddingOuter": 0}, "axis": {"labelAlign": "right", "labelPadding": 3}},
        "color": {"field": "r", "type": "quantitative", "scale": {"domain": [-1,-0.8,-0.6,-0.4,-0.2,0,0.2,0.4,0.6,0.8,1], "range": ["#67001F","#B2182B","#D6604D","#F4A582","#FDDBC7","#FFFFFF","#D1E5F0","#92C5DE","#4393C3","#2166AC","#053061"], "interpolate": "rgb"}},
        "size": {"field": "r", "type": "quantitative", "scale": {"domain": [-1,0,1], "range": [120,0,120]}, "legend": null}
      }
    },
    {
      "data": {"name": "blocks"},
      "mark": {"type": "rect", "filled": false, "stroke": "#000000", "strokeWidth": 2},
      "encoding": {
        "x": {"field": "from", "type": "nominal", "bandPosition": 0, "scale": {"domain": ["21","23","UV-","17","16","22","20","3","15","ARA","MIC SA","MIC CA","IC 50","UV+","13","19","TPC","TFC","4","TTC","2","11","7","12","1","9","6","8","14","5","10","18","MFC CA","MIC PA","MBC SA","24","25","MBC PA","Sugars","MIC EC","MBC EC"], "paddingInner": 0, "paddingOuter": 0}, "axis": {"orient": "top", "labelAngle": -90, "labelAlign": "left", "labelBaseline": "middle", "labelPadding": 2}},
        "x2": {"field": "to", "bandPosition": 1},
        "y": {"field": "from", "type": "nominal", "bandPosition": 0, "scale": {"domain": ["21","23","UV-","17","16","22","20","3","15","ARA","MIC SA","MIC CA","IC 50","UV+","13","19","TPC","TFC","4","TTC","2","11","7","12","1","9","6","8","14","5","10","18","MFC CA","MIC PA","MBC SA","24","25","MBC PA","Sugars","MIC EC","MBC EC"], "paddingInner": 0, "paddingOuter": 0}, "axis": {"labelAlign": "right", "labelPadding": 3}},
        "y2": {"field": "to", "bandPosition": 1}
      }
    }
  ]
}
